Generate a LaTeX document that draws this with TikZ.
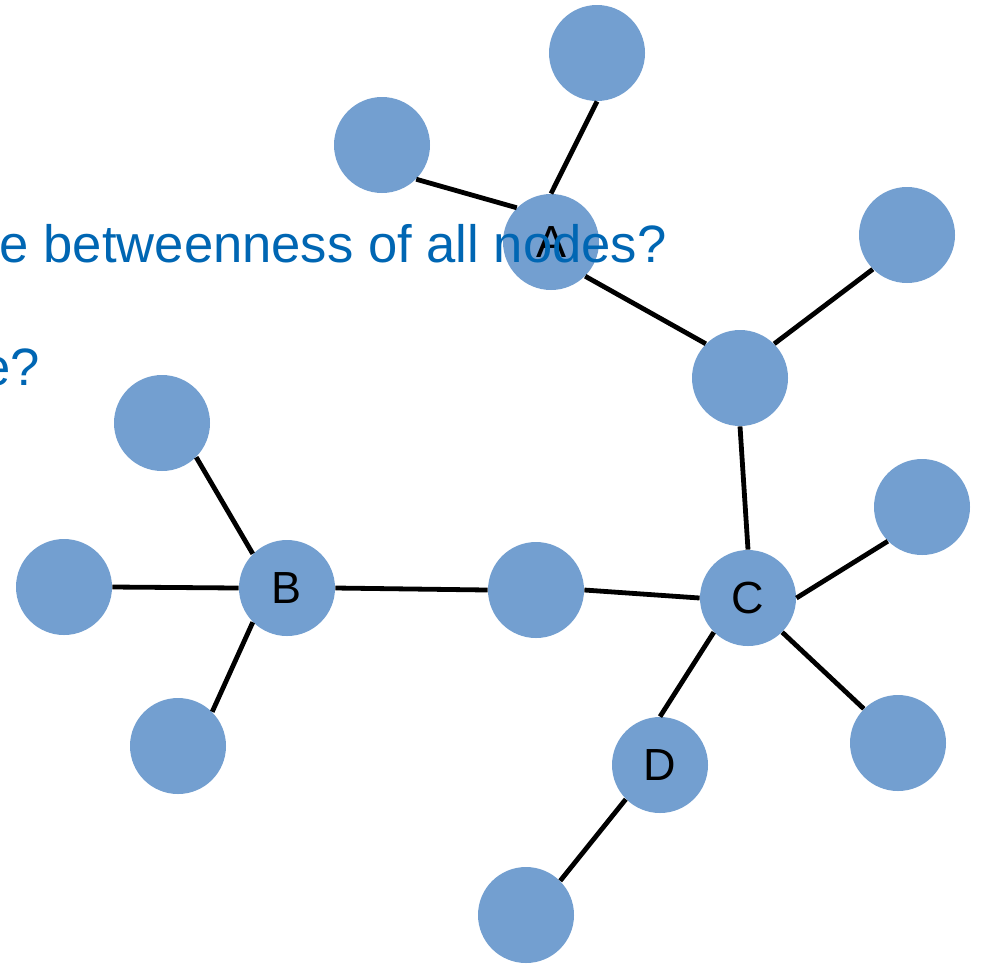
\documentclass[tikz,border=0pt]{standalone}
\usepackage{fontspec}
\setmainfont{Liberation Sans}
\definecolor{nodeblue}{HTML}{739FD0}
\definecolor{textblue}{HTML}{0066B3}
\begin{document}
\begin{tikzpicture}[x=0.5pt, y=-0.5pt,
    vertex/.style={circle, fill=nodeblue, minimum size=48pt, inner sep=0pt, font=\fontsize{22.5}{26}\selectfont},
    edge/.style={line width=2.4pt},
    question/.style={anchor=base east, inner sep=0pt, text=textblue, font=\fontsize{26.3}{30}\selectfont}]
  \useasboundingbox (0,0) rectangle (983,964);
  \node[vertex] (a1) at (597, 53) {};
  \node[vertex] (a2) at (382, 145) {};
  \node[vertex] (A) at (551, 242) {A};
  \node[vertex] (c1) at (907, 235) {};
  \node[vertex] (c0) at (740, 378) {};
  \node[vertex] (c2) at (922, 507) {};
  \node[vertex] (C) at (748, 598) {C};
  \node[vertex] (c3) at (898, 743) {};
  \node[vertex] (D) at (660, 765) {D};
  \node[vertex] (d1) at (526, 915) {};
  \node[vertex] (m) at (536, 590) {};
  \node[vertex] (B) at (287, 588) {B};
  \node[vertex] (b1) at (162, 423) {};
  \node[vertex] (b2) at (64, 587) {};
  \node[vertex] (b3) at (178, 746) {};
  \draw[edge] (A.north) -- (a1.south);
  \draw[edge] (A.135) -- (a2.-45);
  \draw[edge] (A.-45) -- (c0.135);
  \draw[edge] (c0.45) -- (c1.225);
  \draw[edge] (c0.south) -- (C.north);
  \draw[edge] (C.east) -- (c2.225);
  \draw[edge] (C.-45) -- (c3.135);
  \draw[edge] (C.225) -- (D.north);
  \draw[edge] (D.225) -- (d1.45);
  \draw[edge] (C.west) -- (m.east);
  \draw[edge] (m.west) -- (B.east);
  \draw[edge] (B.135) -- (b1.-45);
  \draw[edge] (B.west) -- (b2.east);
  \draw[edge] (B.225) -- (b3.45);
  \node[question] (q1) at (667, 262) {e betweenness of all nodes?};
  \node[question] (q2) at (40, 385) {e?};
\end{tikzpicture}
\end{document}
